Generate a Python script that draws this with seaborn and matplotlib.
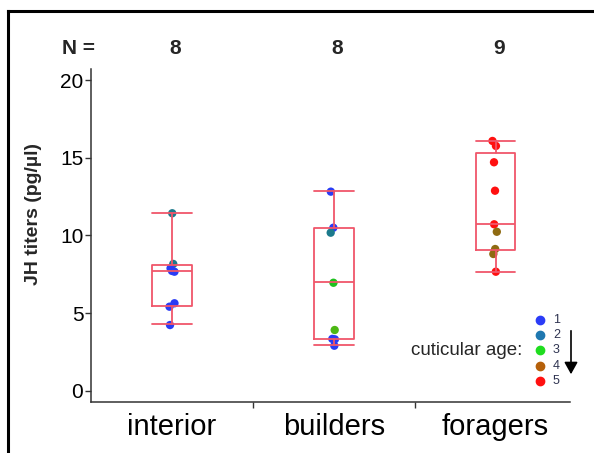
import numpy as np
import pandas as pd
import matplotlib
matplotlib.use("Agg")
import matplotlib.pyplot as plt
from matplotlib.lines import Line2D
from matplotlib.patches import FancyArrowPatch
from matplotlib.transforms import blended_transform_factory
import seaborn as sns

# Groups of workers
groups = ["interior", "builders", "foragers"]

# JH titers (pg/µl) per bee and its cuticular age class
interior_titer = [11.43, 8.17, 7.89, 7.72, 7.67, 5.64, 5.42, 4.24]
interior_age = [2, 2, 1, 1, 1, 1, 1, 1]
builders_titer = [12.82, 10.50, 10.18, 6.96, 3.92, 3.35, 3.32, 2.91]
builders_age = [1, 1, 2, 3, 3.5, 1, 1, 1]
foragers_titer = [16.08, 15.76, 14.71, 12.88, 10.72, 10.24, 9.13, 8.81, 7.67]
foragers_age = [5, 5, 5, 5, 5, 4, 4, 4, 5]

# Box summary per group
box_whislo = [4.29, 2.96, 7.67]
box_q1 = [5.47, 3.35, 9.07]
box_med = [7.72, 6.99, 10.74]
box_q3 = [8.10, 10.50, 15.29]
box_whishi = [11.47, 12.86, 16.08]

# Cuticular age scale
age_levels = [1, 2, 3, 4, 5]
age_legend_colors = ["#2b3cf7", "#1f78b0", "#1fdd1f", "#b5600a", "#ff1010"]
point_palette = {1: "#2a3cf5", 2: "#1c7a8c", 3: "#1fc01f", 3.5: "#4cb814",
                 4: "#8f6b12", 5: "#ff1010"}

df = pd.DataFrame({
    "group": ["interior"] * len(interior_titer)
             + ["builders"] * len(builders_titer)
             + ["foragers"] * len(foragers_titer),
    "titer": interior_titer + builders_titer + foragers_titer,
    "age": interior_age + builders_age + foragers_age,
})

sns.set_theme(style="white")
plt.rcParams["font.family"] = ["Liberation Sans", "DejaVu Sans"]

W, H = 594, 453
fig = plt.figure(figsize=(W / 100, H / 100), dpi=100)
ax = fig.add_axes([91 / W, 1 - 402.3 / H, (570 - 91) / W, (402.3 - 69.3) / H])

np.random.seed(3)
sns.stripplot(data=df, x="group", y="titer", hue="age", order=groups,
              palette=point_palette, jitter=0.02, size=6, linewidth=0,
              legend=False, ax=ax, zorder=2)

box_color = "#f0566a"
stats = [dict(whislo=box_whislo[i], q1=box_q1[i], med=box_med[i],
              q3=box_q3[i], whishi=box_whishi[i], fliers=[])
         for i in range(len(groups))]
lp = dict(color=box_color, linewidth=1.3)
ax.bxp(stats, positions=range(len(groups)), widths=0.245, capwidths=0.245,
       showfliers=False, manage_ticks=False, patch_artist=False,
       boxprops=lp, whiskerprops=lp, capprops=lp, medianprops=lp)
for ln in ax.lines[-(5 * len(groups)):]:
    ln.set_zorder(3)

ax.set_xlim(-0.5, 2.46)
ax.set_ylim(-0.73, 20.69)
ax.set_yticks([0, 5, 10, 15, 20])
ax.set_xticks(range(len(groups)))
ax.set_xticklabels(groups)
ax.set_xticks([0.5, 1.5], minor=True)
ax.set_xlabel("")
ax.set_ylabel("")

spine_color = "#333333"
for s in ["top", "right"]:
    ax.spines[s].set_visible(False)
for s in ["left", "bottom"]:
    ax.spines[s].set_color(spine_color)
    ax.spines[s].set_linewidth(1.1)

ax.tick_params(axis="y", which="major", length=4, width=1, color=spine_color,
               labelsize=15, labelcolor="black", pad=1.5, left=True)
ax.tick_params(axis="x", which="major", length=0, labelsize=21,
               labelcolor="black", pad=8)
ax.tick_params(axis="x", which="minor", length=4, width=1, color=spine_color,
               bottom=True)

# Axis title
fig.text(33 / W, 1 - 214 / H, "JH titers (pg/µl)", rotation=90,
         ha="center", va="center", fontsize=14, fontweight="bold")

# Sample sizes above each group
counts = df.groupby("group")["titer"].size().reindex(groups)
ny = 1 - 48 / H
fig.text(78 / W, ny, "N =", ha="center", va="center", fontsize=15,
         fontweight="bold")
ntrans = blended_transform_factory(ax.transData, fig.transFigure)
for i, n in enumerate(counts):
    ax.text(i + 0.02, ny, str(n), transform=ntrans,
            ha="center", va="center", fontsize=15, fontweight="bold")

# Cuticular age key
fig.text(522 / W, 1 - 350.7 / H, "cuticular age:", ha="right", va="center",
         fontsize=13.5)
for k, (lvl, col) in enumerate(zip(age_levels, age_legend_colors)):
    yy = 1 - (320 + 15.2 * k) / H
    fig.add_artist(Line2D([540 / W], [yy], marker="o", markersize=6,
                          color=col, linestyle="none",
                          transform=fig.transFigure))
    fig.text(553 / W, yy, str(lvl), ha="left", va="center", fontsize=9,
             color="#2e3350")
fig.add_artist(FancyArrowPatch(
    (571 / W, 1 - 328 / H), (571 / W, 1 - 377 / H),
    transform=fig.transFigure, arrowstyle="-|>,head_length=4.5,head_width=2.5",
    color="black", linewidth=1.2, mutation_scale=1.6))

# Frame around the panel (left and top edges)
fig.add_artist(Line2D([7.5 / W, 7.5 / W], [0, 1 - 10.5 / H], color="black",
                      linewidth=2.2, transform=fig.transFigure,
                      solid_capstyle="projecting"))
fig.add_artist(Line2D([7.5 / W, 1], [1 - 10.5 / H, 1 - 10.5 / H],
                      color="black", linewidth=2.2, transform=fig.transFigure,
                      solid_capstyle="projecting"))

fig.savefig("out.png", dpi=100)
